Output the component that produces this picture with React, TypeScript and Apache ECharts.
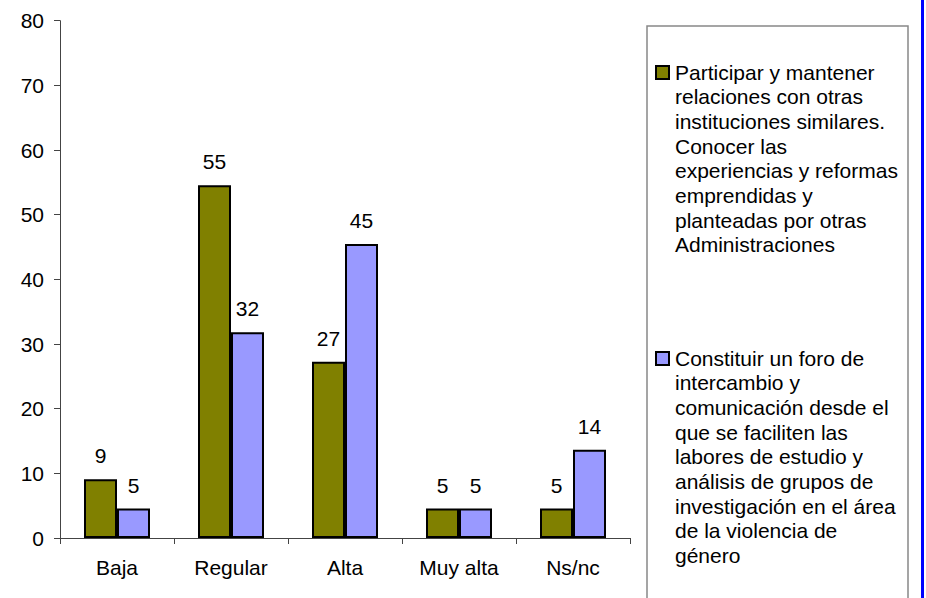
import React, { useEffect, useRef } from "react";
import * as echarts from "echarts";

const categories = ["Baja", "Regular", "Alta", "Muy alta", "Ns/nc"];
const seriesNames = [
  "Participar y mantener relaciones con otras instituciones similares. Conocer las experiencias y reformas emprendidas y planteadas por otras Administraciones",
  "Constituir un foro de intercambio y comunicación desde el que se faciliten las labores de estudio y análisis de grupos de investigación en el área de la violencia de género",
];
const legendLines1 = [
  "Participar y mantener",
  "relaciones con otras",
  "instituciones similares.",
  "Conocer las",
  "experiencias y reformas",
  "emprendidas y",
  "planteadas por otras",
  "Administraciones",
];
const legendLines2 = [
  "Constituir un foro de",
  "intercambio y",
  "comunicación desde el",
  "que se faciliten las",
  "labores de estudio y",
  "análisis de grupos de",
  "investigación en el área",
  "de la violencia de",
  "género",
];
const valuesParticipar = [9.09, 54.55, 27.27, 4.55, 4.55];
const valuesForo = [4.55, 31.82, 45.45, 4.55, 13.64];
const colors = ["#808000", "#9999FF"];

const FONT = "'Liberation Sans', Arial, sans-serif";
const FS = 21;

export default function App() {
  const ref = useRef<HTMLDivElement>(null);
  useEffect(() => {
    document.body.style.margin = "0";
    if (!ref.current) return;
    const chart = echarts.init(ref.current, null, { renderer: "svg" });
    const lineH = 24.7;
    const legendText = (lines: string[], y0: number) =>
      lines.map((t, i) => ({
        type: "text",
        x: 675,
        y: y0 + i * lineH,
        style: { text: t, font: `${FS}px ${FONT}`, fill: "#000", verticalAlign: "middle", align: "left" },
      }));
    const label = {
      show: true,
      position: "top",
      distance: 13,
      color: "#000",
      fontSize: FS,
      fontFamily: FONT,
      formatter: (p: any) => String(Math.round(p.value)),
    };
    chart.setOption({
      animation: false,
      backgroundColor: "#fff",
      textStyle: { fontFamily: FONT },
      grid: { left: 60, right: 296, top: 20.7, bottom: 60, containLabel: false },
      xAxis: {
        type: "category",
        data: categories,
        axisLine: { lineStyle: { color: "#444", width: 1 } },
        axisTick: { show: true, length: 6, alignWithLabel: false, lineStyle: { color: "#444" } },
        axisLabel: { color: "#000", fontSize: FS, fontFamily: FONT, margin: 19 },
      },
      yAxis: {
        type: "value",
        min: 0,
        max: 80,
        interval: 10,
        axisLine: { show: true, lineStyle: { color: "#444", width: 1 } },
        axisTick: { show: true, length: 6, lineStyle: { color: "#444" } },
        axisLabel: { color: "#000", fontSize: FS, fontFamily: FONT, margin: 16 },
        splitLine: { show: false },
      },
      series: [
        {
          name: seriesNames[0],
          type: "bar",
          data: valuesParticipar,
          barWidth: 33,
          barGap: "0%",
          itemStyle: { color: colors[0], borderColor: "#000", borderWidth: 2 },
          label,
        },
        {
          name: seriesNames[1],
          type: "bar",
          data: valuesForo,
          barWidth: 33,
          barGap: "0%",
          itemStyle: { color: colors[1], borderColor: "#000", borderWidth: 2 },
          label,
        },
      ],
      graphic: [
        {
          type: "rect",
          shape: { x: 647, y: 26, width: 261, height: 600 },
          style: { fill: "#fff", stroke: "#888", lineWidth: 1.5 },
        },
        {
          type: "rect",
          shape: { x: 656, y: 66, width: 13, height: 13 },
          style: { fill: colors[0], stroke: "#000", lineWidth: 2 },
        },
        {
          type: "rect",
          shape: { x: 656, y: 352, width: 13, height: 13 },
          style: { fill: colors[1], stroke: "#000", lineWidth: 2 },
        },
        ...legendText(legendLines1, 72),
        ...legendText(legendLines2, 358),
        {
          type: "rect",
          shape: { x: 921, y: 0, width: 3, height: 598 },
          style: { fill: "#0000FF" },
        },
      ],
    });
    return () => chart.dispose();
  }, []);
  return <div ref={ref} style={{ width: 926, height: 598 }} />;
}
